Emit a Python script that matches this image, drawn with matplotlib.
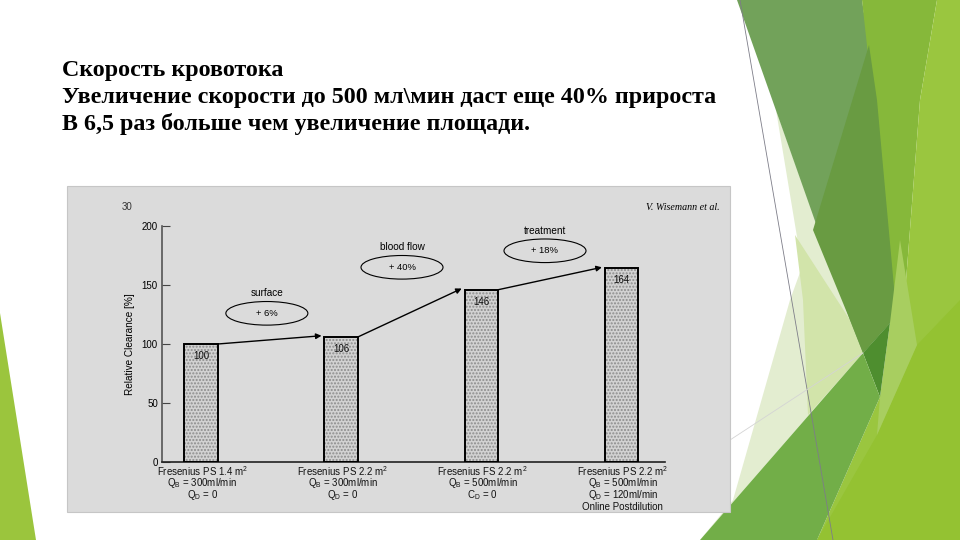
import matplotlib
matplotlib.use('Agg')
import matplotlib.pyplot as plt
from matplotlib.patches import Ellipse, Polygon, Rectangle

plt.rcParams['font.family'] = ['Liberation Sans', 'DejaVu Sans']
plt.rcParams['mathtext.fontset'] = 'custom'
plt.rcParams['mathtext.rm'] = 'Liberation Sans'
plt.rcParams['mathtext.it'] = 'Liberation Sans:italic'

# ---------------- data ----------------
title_lines = [
    "Скорость кровотока",
    "Увеличение скорости до 500 мл\\мин даст еще 40% прироста",
    "В 6,5 раз больше чем увеличение площади.",
]
categories = [
    "Fresenius PS 1.4 m$^2$\n$\\mathrm{Q_B}$ = 300ml/min\n$\\mathrm{Q_D}$ = 0",
    "Fresenius PS 2.2 m$^2$\n$\\mathrm{Q_B}$ = 300ml/min\n$\\mathrm{Q_D}$ = 0",
    "Fresenius FS 2.2 m$^2$\n$\\mathrm{Q_B}$ = 500ml/min\n$\\mathrm{C_D}$ = 0",
    "Fresenius PS 2.2 m$^2$\n$\\mathrm{Q_B}$ = 500ml/min\n$\\mathrm{Q_D}$ = 120ml/min\nOnline Postdilution",
]
values = [100, 106, 146, 164]
step_names = ["surface", "blood flow", "treatment"]
step_pct = ["+ 6%", "+ 40%", "+ 18%"]
step_ell_y = [126, 165, 179]
step_ell_x = [0.47, 1.434, 2.454]
yticks = [0, 50, 100, 150, 200]
ylabel = "Relative Clearance [%]"
page_no = "30"
source = "V. Wisemann et al."

W, H = 960, 540
fig = plt.figure(figsize=(9.6, 5.4), dpi=100)
fig.patch.set_facecolor('white')

# ---------------- background decoration ----------------
bg = fig.add_axes([0, 0, 1, 1])
bg.set_xlim(0, W)
bg.set_ylim(H, 0)
bg.axis('off')

def poly(pts, color, z=1.0):
    bg.add_patch(Polygon(pts, closed=True, facecolor=color, edgecolor='none', zorder=z))

poly([(776, 110), (863, 353), (700, 540), (733, 500), (790, 300), (802, 267)], '#e3edd0', 1.0)
poly([(795, 235), (850, 320), (863, 353), (808, 415), (803, 300)], '#d2e4aa', 1.05)
poly([(737, 0), (862, 0), (877, 100), (897, 320), (890, 323), (863, 353), (850, 320)], '#72a25a', 1.1)
poly([(869, 45), (877, 100), (897, 320), (890, 323), (863, 353), (850, 320), (813, 230)], '#699b42', 1.2)
poly([(862, 0), (937, 0), (920, 100), (903, 320), (897, 320)], '#86b83a', 1.1)
poly([(937, 0), (960, 0), (960, 540), (817, 540), (880, 397), (903, 320), (920, 100)], '#9ac63f', 1.1)
poly([(900, 240), (917, 345), (877, 435), (880, 397), (890, 323)], '#a8ce60', 1.3)
poly([(877, 435), (917, 345), (960, 300), (960, 540), (817, 540)], '#94c232', 1.25)
poly([(863, 353), (890, 323), (880, 397)], '#4e8e2f', 1.4)
poly([(863, 353), (880, 397), (817, 540), (700, 540)], '#72ae48', 1.4)
poly([(0, 313), (0, 540), (36, 540)], '#9bc53d', 1.0)
bg.plot([740, 833], [0, 540], color='#7d7d88', lw=0.6, zorder=2)
bg.plot([730, 863], [440, 353], color='#d4d4d4', lw=0.6, zorder=2)

# chart panel
bg.add_patch(Rectangle((67, 186), 663, 326, facecolor='#dbdbdb', edgecolor='#c6c6c6', lw=0.8, zorder=3))

# ---------------- titles ----------------
for i, line in enumerate(title_lines):
    fig.text(62 / W, 1 - (76 + 26.8 * i) / H, line, family=['Liberation Serif', 'DejaVu Serif'],
             fontweight='bold', fontsize=17.3, va='baseline', ha='left', color='black')

# ---------------- main chart ----------------
ax = fig.add_axes([162 / W, 1 - 462 / H, (665 - 162) / W, (462 - 226) / H])
ax.set_facecolor('none')
x = list(range(len(values)))
bw = 0.24
ax.bar(x, values, width=bw, color='#d2d2d2', edgecolor='#8c8c8c', linewidth=0, hatch='.....', zorder=2)
ax.bar(x, values, width=bw, fill=False, edgecolor='black', linewidth=1.4, zorder=3)
for xi, v in zip(x, values):
    ax.annotate(str(v), (xi, v), xytext=(0, -5), textcoords='offset points', ha='center', va='top',
                fontsize=7, color='#111111', zorder=4)

ax.set_xlim(-0.278, 3.31)
ax.set_ylim(0, 200)
ax.set_yticks(yticks)
ax.set_xticks(x)
ax.set_xticklabels([])
ax.tick_params(axis='x', length=0)
ax.tick_params(axis='y', direction='in', length=6, width=0.8, labelsize=7, pad=3, color='#444444')
for s in ['top', 'right']:
    ax.spines[s].set_visible(False)
ax.spines['left'].set_color('#555555')
ax.spines['left'].set_linewidth(1.2)
ax.spines['bottom'].set_color('#222222')
ax.spines['bottom'].set_linewidth(1.2)

for xi, lab in zip(x, categories):
    for j, ln in enumerate(lab.split('\n')):
        ax.annotate(ln, xy=(xi, 0), xycoords=('data', 'axes fraction'),
                    xytext=(1, -(9.5 + 11.7 * j) * 0.72), textcoords='offset points',
                    ha='center', va='center', fontsize=7.0, color='#111111', annotation_clip=False)

for i in range(len(values) - 1):
    ax.annotate('', xy=(i + 1 - bw / 2 - 0.02, values[i + 1] + 1), xytext=(i + bw / 2, values[i]),
                arrowprops=dict(arrowstyle='-|>', color='black', lw=1.0, mutation_scale=8,
                                shrinkA=0, shrinkB=0), zorder=4)

for ex, ey, name, pct in zip(step_ell_x, step_ell_y, step_names, step_pct):
    ax.add_patch(Ellipse((ex, ey), 0.585, 20, fill=False, edgecolor='black', lw=0.8, clip_on=False))
    ax.text(ex, ey, pct, ha='center', va='center', fontsize=6.8, clip_on=False)
    ax.text(ex, ey + 17, name, ha='center', va='center', fontsize=7.2, clip_on=False)

fig.text(130 / W, 1 - 344 / H, ylabel, rotation=90, fontsize=7.2, ha='center', va='center')
fig.text(127 / W, 1 - 207 / H, page_no, fontsize=7, ha='center', va='center', color='#333333')
fig.text(720 / W, 1 - 208 / H, source, fontsize=7.2, ha='right', va='center',
         family=['Liberation Serif', 'DejaVu Serif'], style='italic')

fig.savefig('out.png', dpi=100)
